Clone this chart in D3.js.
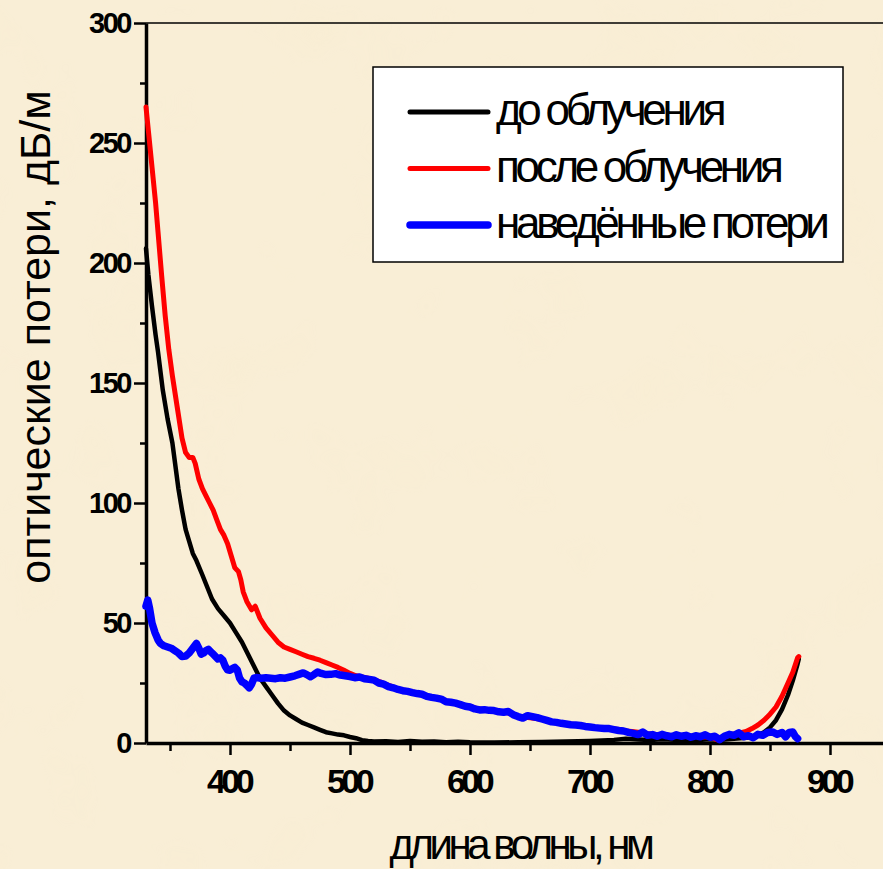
<!DOCTYPE html>
<html>
<head>
<meta charset="utf-8">
<script src="https://cdn.jsdelivr.net/npm/d3@7"></script>
<style>
  body { margin: 0; background: #f8ebcf; }
  svg { display: block; }
</style>
</head>
<body>
<script>
const W = 883, H = 869;

// длина волны (нм) / потери (дБ/м)
const before = [
  [330, 206], [332, 195], [335, 182], [338, 170], [340, 163], [344, 147], [348, 135],
  [352, 125], [357, 106], [360, 97], [363, 89], [366, 84], [369, 79], [372, 76],
  [377, 70], [381, 65], [385, 60], [390, 56], [395, 53], [400, 50], [405, 46],
  [410, 42], [415, 37], [420, 32], [425, 27], [430, 23.5], [435, 20], [440, 16.5],
  [445, 13.5], [450, 11.5], [455, 10], [460, 8.5], [465, 7.5], [470, 6.5], [475, 5.5],
  [480, 4.5], [485, 4], [490, 3.5], [495, 3.2], [500, 2.5], [505, 2], [510, 1.2],
  [515, 0.8], [520, 0.6], [530, 0.7], [540, 0.4], [550, 0.8], [560, 0.5], [570, 0.6],
  [580, 0.3], [590, 0.5], [600, 0.3], [620, 0.2], [640, 0.3], [660, 0.4], [680, 0.6],
  [700, 0.8], [710, 1], [720, 1.3], [730, 1.8], [740, 1.5], [750, 1.2], [760, 1.6],
  [770, 1.4], [780, 1.5], [790, 1.3], [800, 1.6], [810, 1.4], [820, 1.8], [830, 2.2],
  [836, 2.6], [840, 3.2], [845, 4.5], [850, 6.5], [855, 9.5], [860, 14], [865, 20],
  [869, 26], [873, 33], [874, 35]
];

const after = [
  [330, 265], [332, 255], [335, 240], [338, 225], [340, 213], [343, 195], [346, 178],
  [349, 164], [352, 153], [356, 140], [360, 127], [363, 121], [366, 119], [369, 119],
  [371, 116.5], [374, 110], [377, 106], [380, 103], [383, 100], [386, 97], [389, 93],
  [392, 89], [395, 86.5], [398, 83], [401, 78], [404, 73], [407, 71.5], [409, 68],
  [411, 63], [414, 59], [418, 55.5], [421, 57], [425, 52], [430, 48], [435, 45],
  [440, 42], [445, 40], [450, 39], [455, 38], [460, 37], [465, 36], [470, 35.3],
  [475, 34.5], [480, 33.5], [485, 32.5], [490, 31.5], [495, 30.3], [500, 29],
  [505, 28], [510, 27.5], [515, 27], [520, 26.3], [525, 25.5], [530, 24.5],
  [535, 23.5], [540, 22.5], [545, 22], [550, 21.5], [555, 21], [560, 20], [565, 19.5],
  [570, 19], [575, 18.5], [580, 17.5], [585, 17], [590, 16.5], [595, 15.8], [600, 15.3],
  [605, 14.5], [610, 14], [615, 13.8], [620, 13.5], [625, 13], [630, 12.8], [635, 12],
  [640, 11], [645, 10.8], [650, 10.5], [655, 10.2], [660, 9.8], [665, 9], [670, 8.5],
  [675, 8.3], [680, 8], [685, 7.8], [690, 7.5], [695, 7], [700, 6.8], [705, 6.5],
  [710, 6.2], [715, 6], [720, 5.8], [725, 5.5], [730, 5], [735, 4.8], [740, 4.5],
  [745, 4], [750, 3.8], [755, 3.5], [760, 3.3], [765, 3.2], [770, 3], [775, 2.8],
  [780, 3], [785, 2.7], [790, 2.8], [795, 2.5], [800, 2.6], [805, 1.5], [808, 1],
  [812, 2.5], [816, 3.2], [820, 3.8], [825, 4.2], [830, 4.8], [835, 6], [840, 7.5],
  [845, 9.5], [850, 12], [855, 15], [860, 19.5], [865, 25], [869, 29.5], [873, 35.5],
  [874, 36]
];

const induced = [
  [330, 57], [331.5, 59.5], [333, 56], [335, 50], [337.5, 46], [340, 43], [342, 41.5],
  [345, 40.5], [348, 40], [351, 39.5], [354, 38.5], [357, 37.5], [360, 36], [363, 36.2],
  [366, 37.5], [369, 39.5], [372, 41.5], [374, 39.5], [376, 37], [378, 37.5], [380, 38.5],
  [382, 39], [384, 38], [386, 37], [388, 36], [390, 35], [392, 35.5], [394, 34.5],
  [396, 32], [398, 30.5], [400, 30.3], [402, 31], [404, 31.5], [406, 30.5], [408, 27],
  [410, 25.5], [412, 25], [414, 24], [416, 23], [418, 24.5], [420, 27], [422, 27.3],
  [426, 27], [430, 27.2], [434, 27], [438, 26.8], [442, 27.2], [446, 27], [450, 27.5],
  [454, 28], [458, 28.7], [461, 29.2], [464, 28.5], [467, 27.6], [470, 28.5], [473, 29.6],
  [476, 29], [480, 28.5], [484, 28.6], [488, 28.9], [492, 28.3], [496, 28], [500, 27.7],
  [504, 27.2], [508, 27.5], [512, 26.8], [516, 26.5], [520, 26.2], [524, 25], [528, 24.5],
  [532, 23.5], [536, 23], [540, 22.3], [544, 21.8], [548, 21.5], [552, 21], [556, 20.6],
  [560, 20.3], [564, 19.4], [568, 19], [572, 18.7], [576, 18.3], [580, 17.2], [584, 17],
  [588, 16.6], [592, 16], [596, 15.3], [600, 15], [604, 14.2], [608, 13.8], [612, 13.9],
  [616, 13.6], [620, 13.5], [624, 13], [628, 12.8], [632, 13.1], [636, 11.8], [640, 11],
  [644, 10.4], [648, 11.4], [652, 11], [656, 10.6], [660, 10], [664, 9.4], [668, 8.8],
  [672, 8.6], [676, 8.2], [680, 7.9], [684, 7.6], [688, 7.5], [692, 7.3], [696, 6.9],
  [700, 6.7], [704, 6.4], [708, 6.2], [712, 6], [716, 6], [720, 5.6], [724, 5.2],
  [728, 5], [732, 4.4], [736, 4], [740, 3.5], [744, 4.6], [748, 3.2], [752, 3.5],
  [756, 2.8], [760, 3.6], [764, 3], [768, 2.6], [772, 3.4], [776, 2.8], [780, 3.2],
  [784, 2.4], [788, 3], [792, 2.6], [796, 3.4], [800, 2.4], [804, 2.8], [808, 1.4],
  [812, 2.8], [816, 3.6], [820, 3.2], [824, 4.2], [828, 2.6], [832, 3], [836, 2.2],
  [840, 3.6], [844, 3.2], [848, 4.4], [852, 4.6], [856, 3.6], [860, 4.4], [863, 2.6],
  [866, 4.4], [869, 4.6], [871, 2.8], [873, 1.8]
];

const xTicks = [400, 500, 600, 700, 800, 900];
const xMinor = [350, 450, 550, 650, 750, 850, 950];
const yTicks = [0, 50, 100, 150, 200, 250, 300];
const yMinor = [25, 75, 125, 175, 225, 275];

const series = [
  { name: "до облучения", data: before, color: "#000000", width: 4.5, key: 5 },
  { name: "после облучения", data: after, color: "#ff0000", width: 5, key: 5 },
  { name: "наведённые потери", data: induced, color: "#0000ff", width: 7.5, key: 7.5 }
];

const font = "Arial, 'Liberation Sans', sans-serif";

const x = d3.scaleLinear().domain([330, 950]).range([146, 890]);
const y = d3.scaleLinear().domain([0, 300]).range([743, 23]);

const svg = d3.select("body").append("svg")
  .attr("width", W)
  .attr("height", H);

// parchment-ish background
const defs = svg.append("defs");
const f = defs.append("filter").attr("id", "paper")
  .attr("x", 0).attr("y", 0).attr("width", "100%").attr("height", "100%");
f.append("feTurbulence").attr("type", "fractalNoise")
  .attr("baseFrequency", 0.012).attr("numOctaves", 3).attr("seed", 7);
f.append("feColorMatrix").attr("type", "matrix")
  .attr("values", "0 0 0 0 0.93  0 0 0 0 0.84  0 0 0 0 0.62  0 0 0 -1.6 0.75");

svg.append("rect").attr("width", W).attr("height", H).attr("fill", "#f9eed6");
svg.append("rect").attr("width", W).attr("height", H).attr("filter", "url(#paper)").attr("opacity", 0.4);

// top frame line
svg.append("line")
  .attr("x1", x(330)).attr("x2", x(950))
  .attr("y1", y(300)).attr("y2", y(300))
  .attr("stroke", "#000").attr("stroke-width", 1.5);

// minor ticks
svg.append("g")
  .attr("transform", `translate(0,${y(0)})`)
  .call(d3.axisBottom(x).tickValues(xMinor).tickSize(8).tickFormat(""))
  .call(g => g.select(".domain").remove())
  .selectAll("line").attr("stroke-width", 2.5);

svg.append("g")
  .attr("transform", `translate(${x(330)},0)`)
  .call(d3.axisLeft(y).tickValues(yMinor).tickSize(6).tickFormat(""))
  .call(g => g.select(".domain").remove())
  .selectAll("line").attr("stroke-width", 2.5);

// main axes
const xAxis = svg.append("g")
  .attr("transform", `translate(0,${y(0)})`)
  .call(d3.axisBottom(x).tickValues(xTicks).tickSize(12).tickSizeOuter(0).tickPadding(14));
xAxis.select(".domain").attr("stroke-width", 3.5);
xAxis.selectAll(".tick line").attr("stroke-width", 2.5);
xAxis.selectAll(".tick text")
  .attr("font-family", font)
  .attr("font-size", 34)
  .attr("font-weight", "bold")
  .attr("letter-spacing", "-4.5px")
  .attr("dx", "-2px")
  .attr("fill", "#000");

const yAxis = svg.append("g")
  .attr("transform", `translate(${x(330)},0)`)
  .call(d3.axisLeft(y).tickValues(yTicks).tickSize(12).tickSizeOuter(0).tickPadding(4));
yAxis.select(".domain").attr("stroke-width", 3.5);
yAxis.selectAll(".tick line").attr("stroke-width", 2.5);
yAxis.selectAll(".tick text")
  .attr("font-family", font)
  .attr("font-size", 29)
  .attr("font-weight", "bold")
  .attr("letter-spacing", "-2.5px")
  .attr("fill", "#000");

// curves
const line = d3.line()
  .x(d => x(d[0]))
  .y(d => y(d[1]));

svg.append("g")
  .attr("fill", "none")
  .attr("stroke-linejoin", "round")
  .attr("stroke-linecap", "round")
  .selectAll("path")
  .data(series)
  .join("path")
  .attr("d", d => line(d.data))
  .attr("stroke", d => d.color)
  .attr("stroke-width", d => d.width);

// axis titles
svg.append("text")
  .attr("x", 520)
  .attr("y", 859)
  .attr("text-anchor", "middle")
  .attr("font-family", font)
  .attr("font-size", 42)
  .attr("letter-spacing", "-4.5px")
  .text("длина волны, нм");

svg.append("text")
  .attr("transform", "translate(50,337) rotate(-90)")
  .attr("text-anchor", "middle")
  .attr("font-family", font)
  .attr("font-size", 43)
  .text("оптические потери, дБ/м");

// legend
const legend = svg.append("g");
legend.append("rect")
  .attr("x", 373).attr("y", 67)
  .attr("width", 470).attr("height", 195)
  .attr("fill", "#fff")
  .attr("stroke", "#000")
  .attr("stroke-width", 1.5);

const rows = legend.selectAll("g.row")
  .data(series)
  .join("g")
  .attr("class", "row")
  .attr("transform", (d, i) => `translate(0,${112 + i * 56.5})`);

rows.append("line")
  .attr("x1", 410).attr("x2", 488)
  .attr("stroke", d => d.color)
  .attr("stroke-width", d => d.key)
  .attr("stroke-linecap", "round");

rows.append("text")
  .attr("x", 496)
  .attr("y", 13)
  .attr("font-family", font)
  .attr("font-size", 44)
  .attr("letter-spacing", "-4.3px")
  .text(d => d.name);
</script>
</body>
</html>
